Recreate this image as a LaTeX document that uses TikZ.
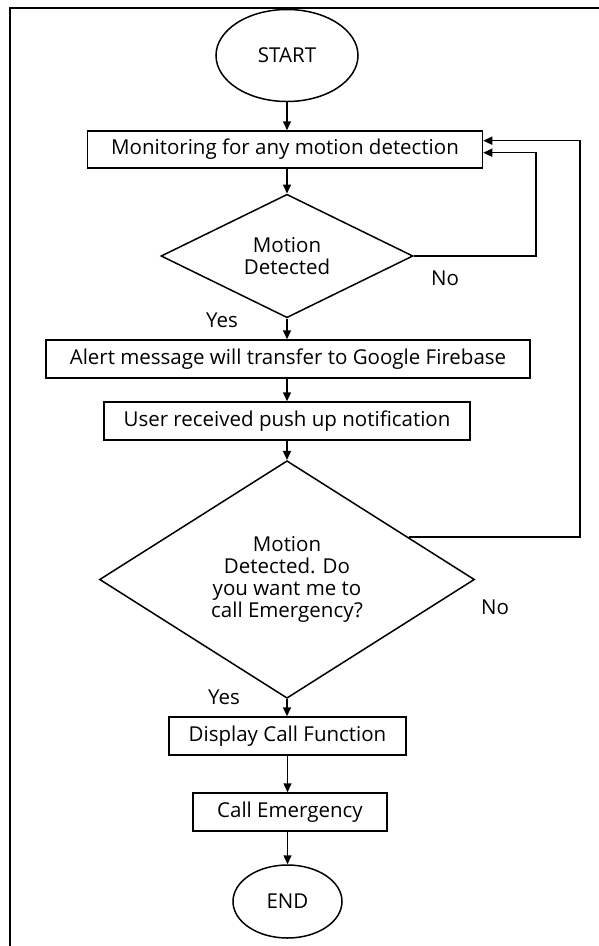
\documentclass[tikz,border=0pt]{standalone}
\usepackage{fontspec}
\setmainfont{Open Sans}
\usetikzlibrary{shapes.geometric,arrows.meta,calc}
\begin{document}
\begin{tikzpicture}[x=1pt,y=-1pt,
  font=\fontsize{20.5}{22}\selectfont,
  line width=1.5pt,
  box/.style={draw,rectangle,inner sep=0pt,minimum height=38pt},
  term/.style={draw,ellipse,inner sep=0pt},
  dec/.style={draw,diamond,inner sep=0pt,align=center},
  arr/.style={-{Triangle[length=9pt,width=8pt]}},
  lbl/.style={inner sep=0pt}]
\useasboundingbox (0,0) rectangle (599,946);
\draw[line width=2pt] (10,946) -- (10,7.5) -- (599,7.5);

\node[term,minimum width=142pt,minimum height=92pt] (start) at (287,55.5) {START};
\node[box,minimum width=395pt,minimum height=37pt] (mon) at (285,149.5) {Monitoring for any motion detection};
\node[dec,minimum width=252pt,minimum height=104pt] (d1) at (287,256) {Motion\\Detected};
\node[box,minimum width=484pt] (alert) at (288,359) {Alert message will transfer to Google Firebase};
\node[box,minimum width=366pt] (user) at (287,421) {User received push up notification};
\node[dec,minimum width=375pt,minimum height=229pt] (d2) at (287,579.5) {Motion\\Detected. Do\\you want me to\\call Emergency?};
\node[box,minimum width=237pt] (disp) at (287.5,736) {Display Call Function};
\node[box,minimum width=194pt] (call) at (290,812) {Call Emergency};
\node[term,minimum width=109pt,minimum height=73pt] (end) at (287.5,901.5) {END};

\node[lbl] (no1) at (445,278) {No};
\node[lbl] (yes1) at (222,320) {Yes};
\node[lbl] (no2) at (495,607) {No};
\node[lbl] (yes2) at (224,697) {Yes};

\draw[arr] (start.south) -- (start.south |- mon.north);
\draw[arr] (d1.north |- mon.south) -- (d1.north);
\draw[arr] (d1.south) -- (d1.south |- alert.north);
\draw[arr] (d1.south |- alert.south) -- (d1.south |- user.north);
\draw[arr] (d2.north |- user.south) -- (d2.north);
\draw[arr] (d2.south) -- (d2.south |- disp.north);
\draw[arr] (disp.south) -- (disp.south |- call.north);
\draw[arr] (end.north |- call.south) -- (end.north);

\coordinate (r1) at (536,152.7);
\draw[arr] (d1.east) -| (r1) -- (r1 -| mon.east);
\coordinate (s2) at ($(d2.north)!0.646!(d2.east)$);
\coordinate (r2) at (580,140.7);
\draw[arr] (s2) -| (r2) -- (r2 -| mon.east);
\end{tikzpicture}
\end{document}
